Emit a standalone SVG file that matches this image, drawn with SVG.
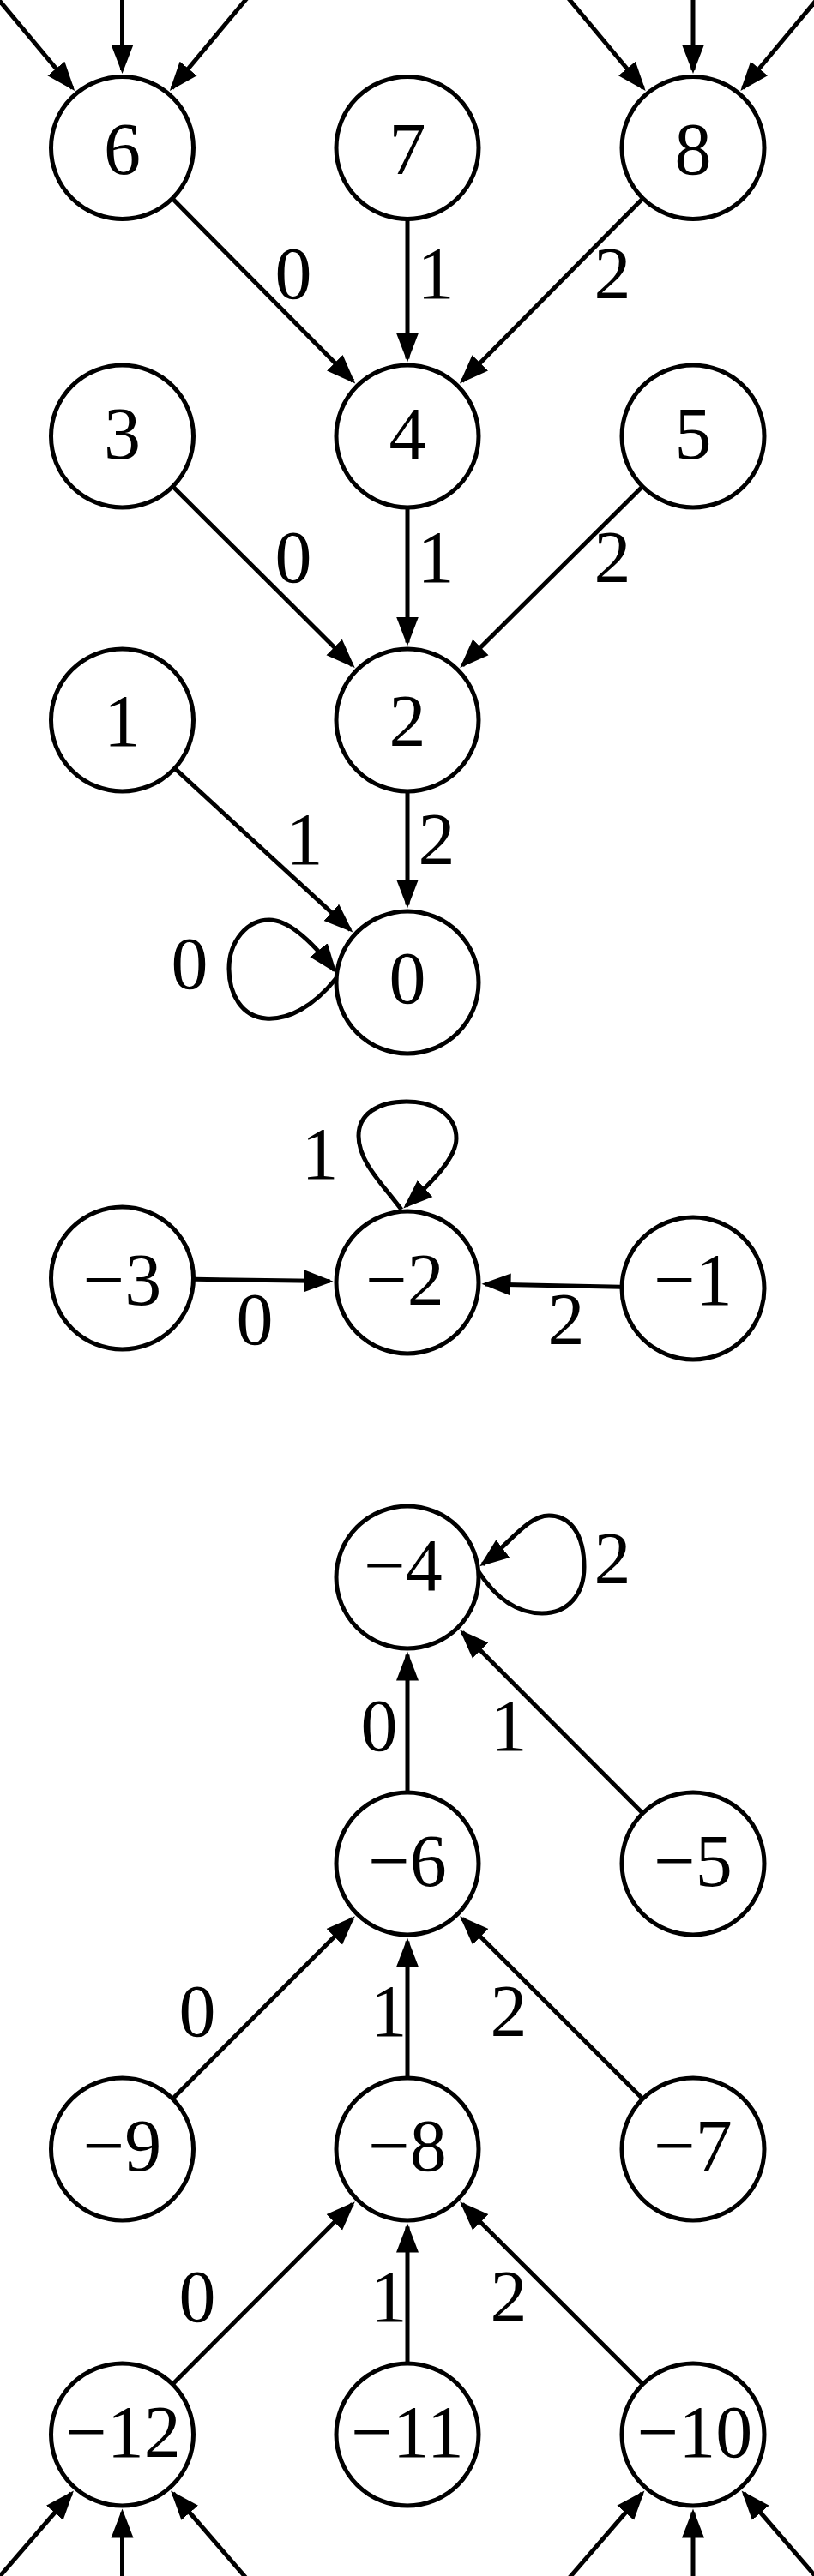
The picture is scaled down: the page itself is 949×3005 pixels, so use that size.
<svg xmlns="http://www.w3.org/2000/svg" width="949" height="3005" viewBox="0 0 949 3005">
<style>
.node circle{fill:#fff;stroke:#000;stroke-width:5}
text{font-family:"Liberation Serif","Times New Roman",serif;font-size:86px;fill:#000;text-anchor:middle}
.edges path,.edges line{fill:none;stroke:#000;stroke-width:5;marker-end:url(#ah)}
</style>
<defs>
<marker id="ah" markerUnits="userSpaceOnUse" markerWidth="36" markerHeight="28" viewBox="0 0 36 28" refX="30" refY="14" orient="auto">
<path d="M0,1 L34,14 L0,27 z" fill="#000"/>
</marker>
</defs>
<rect width="949" height="3005" fill="#fff"/>
<g class="edges" id="connectors">
<line x1="-5.4" y1="-5" x2="84.6" y2="103"/>
<line x1="142.5" y1="-5" x2="142.5" y2="82"/>
<line x1="290.4" y1="-5" x2="200.4" y2="103"/>
<line x1="660.1" y1="-5" x2="750.1" y2="103"/>
<line x1="808" y1="-5" x2="808" y2="82"/>
<line x1="955.9" y1="-5" x2="865.9" y2="103"/>
<line x1="201.9" y1="232.6" x2="411.4" y2="444.6"/>
<line x1="475" y1="257" x2="475" y2="418.5"/>
<line x1="748.5" y1="232.5" x2="538.7" y2="444.7"/>
<line x1="202.4" y1="568.6" x2="410.9" y2="776.2"/>
<line x1="475" y1="593.5" x2="475" y2="749.5"/>
<line x1="748.1" y1="568.6" x2="539.1" y2="776.2"/>
<line x1="204.7" y1="897.2" x2="408.4" y2="1084.7"/>
<line x1="475" y1="924.5" x2="475" y2="1055.5"/>
<path d="M392,1141 C365,1175 335,1190 310,1188 C282,1186 267,1160 267,1130 C267,1098 288,1073 314,1073 C338,1073 365,1100 390,1132"/>
<line x1="227" y1="1492.3" x2="384.5" y2="1494.6"/>
<line x1="723.5" y1="1501.2" x2="565.5" y2="1497.9"/>
<path d="M468,1411 C445,1380 418,1355 418,1325 C418,1300 440,1285 474,1285 C508,1285 532,1302 532,1328 C532,1350 505,1378 473.3,1406.7"/>
<path d="M557,1832 C575,1860 600,1882 632,1882 C662,1882 681,1860 681,1828 C681,1790 665,1768 640,1768 C615,1768 595,1800 562.5,1824.9"/>
<line x1="475" y1="2089.5" x2="475" y2="1930.5"/>
<line x1="748.3" y1="2114.2" x2="538.9" y2="1904.1"/>
<line x1="202.2" y1="2447.2" x2="411" y2="2238"/>
<line x1="475" y1="2422.5" x2="475" y2="2264.5"/>
<line x1="748.3" y1="2447.2" x2="539" y2="2238"/>
<line x1="202.2" y1="2780.2" x2="411" y2="2571"/>
<line x1="475" y1="2755.5" x2="475" y2="2597.5"/>
<line x1="748.3" y1="2780.2" x2="539" y2="2571"/>
<line x1="-4.3" y1="3010" x2="83.3" y2="2908.5"/>
<line x1="142.5" y1="3010" x2="142.5" y2="2930.5"/>
<line x1="289.3" y1="3010" x2="201.7" y2="2908.5"/>
<line x1="661.2" y1="3010" x2="748.8" y2="2908.5"/>
<line x1="808" y1="3010" x2="808" y2="2930.5"/>
<line x1="954.8" y1="3010" x2="867.2" y2="2908.5"/>
</g>
<g id="edge-labels">
<text x="342" y="347.5">0</text>
<text x="508" y="347.5">1</text>
<text x="714" y="347.5">2</text>
<text x="342" y="678.5">0</text>
<text x="508" y="678.5">1</text>
<text x="714" y="678.5">2</text>
<text x="355" y="1007.6">1</text>
<text x="509" y="1007.6">2</text>
<text x="221" y="1153">0</text>
<text x="373" y="1375">1</text>
<text x="297" y="1568">0</text>
<text x="660" y="1568">2</text>
<text x="714" y="1847">2</text>
<text x="442" y="2042">0</text>
<text x="593" y="2042">1</text>
<text x="230" y="2375">0</text>
<text x="453" y="2375">1</text>
<text x="593" y="2375">2</text>
<text x="230" y="2708">0</text>
<text x="453" y="2708">1</text>
<text x="593" y="2708">2</text>
</g>
<g class="node" id="n6"><circle cx="142.5" cy="172.5" r="83"/><text x="142.5" y="203">6</text></g>
<g class="node" id="n7"><circle cx="475" cy="172.5" r="83"/><text x="475" y="203">7</text></g>
<g class="node" id="n8"><circle cx="808" cy="172.5" r="83"/><text x="808" y="203">8</text></g>
<g class="node" id="n3"><circle cx="142.5" cy="509" r="83"/><text x="142.5" y="535">3</text></g>
<g class="node" id="n4"><circle cx="475" cy="509" r="83"/><text x="475" y="535">4</text></g>
<g class="node" id="n5"><circle cx="808" cy="509" r="83"/><text x="808" y="535">5</text></g>
<g class="node" id="n1"><circle cx="142.5" cy="840" r="83"/><text x="142.5" y="870">1</text></g>
<g class="node" id="n2"><circle cx="475" cy="840" r="83"/><text x="475" y="870">2</text></g>
<g class="node" id="n0"><circle cx="475" cy="1146" r="83"/><text x="475" y="1170">0</text></g>
<g class="node" id="nm3"><circle cx="142.5" cy="1491" r="83"/><text x="142.5" y="1521.7">−3</text></g>
<g class="node" id="nm2"><circle cx="475" cy="1496" r="83"/><text x="472" y="1521.7">−2</text></g>
<g class="node" id="nm1"><circle cx="808" cy="1503" r="83"/><text x="808" y="1521.7">−1</text></g>
<g class="node" id="nm4"><circle cx="475" cy="1840" r="83"/><text x="470" y="1855">−4</text></g>
<g class="node" id="nm6"><circle cx="475" cy="2174" r="83"/><text x="475" y="2199.6">−6</text></g>
<g class="node" id="nm5"><circle cx="808" cy="2174" r="83"/><text x="808" y="2199.6">−5</text></g>
<g class="node" id="nm9"><circle cx="142.5" cy="2507" r="83"/><text x="142.5" y="2532">−9</text></g>
<g class="node" id="nm8"><circle cx="475" cy="2507" r="83"/><text x="475" y="2532">−8</text></g>
<g class="node" id="nm7"><circle cx="808" cy="2507" r="83"/><text x="808" y="2532">−7</text></g>
<g class="node" id="nm12"><circle cx="142.5" cy="2840" r="83"/><text x="143.5" y="2866">−12</text></g>
<g class="node" id="nm11"><circle cx="475" cy="2840" r="83"/><text x="475" y="2866">−11</text></g>
<g class="node" id="nm10"><circle cx="808" cy="2840" r="83"/><text x="810" y="2866">−10</text></g>
</svg>
